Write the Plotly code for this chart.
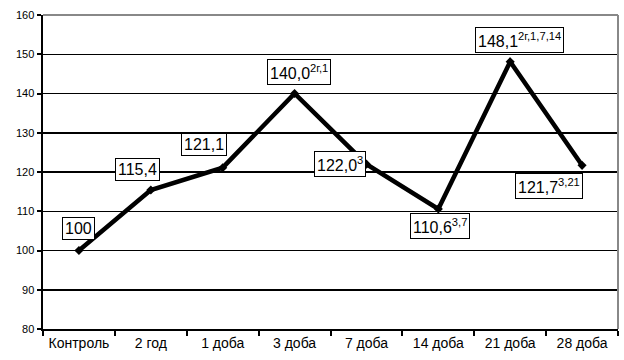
import plotly.graph_objects as go

categories = ["Контроль", "2 год", "1 доба", "3 доба", "7 доба", "14 доба", "21 доба", "28 доба"]
values = [100, 115.4, 121.1, 140.0, 122.0, 110.6, 148.1, 121.7]
labels = ["100", "115,4", "121,1", "140,0<sup>2г,1</sup>", "122,0<sup>3</sup>",
          "110,6<sup>3,7</sup>", "148,1<sup>2г,1,7,14</sup>", "121,7<sup>3,21</sup>"]
label_shift_x = [0, -13, -19, 4, -26, 2, 9, -33]
label_shift_y = [22, 21, 23, 22, 0, -17, 22, -21]

font = "Liberation Sans, Arial, sans-serif"

fig = go.Figure()
fig.add_trace(go.Scatter(
    x=categories, y=values, mode="lines+markers",
    line=dict(color="black", width=4.5),
    marker=dict(symbol="diamond", size=7, color="black"),
    showlegend=False, hoverinfo="skip",
))

for c, v, t, sx, sy in zip(categories, values, labels, label_shift_x, label_shift_y):
    fig.add_annotation(
        x=c, y=v, text=t, showarrow=False, xshift=sx, yshift=sy,
        font=dict(family=font, size=16, color="black"),
        bgcolor="white", bordercolor="black", borderwidth=1, borderpad=2,
    )

# gray top and right borders
fig.add_shape(type="line", xref="paper", yref="paper", x0=0, x1=1, y0=1, y1=1,
              line=dict(color="#888888", width=2))
fig.add_shape(type="line", xref="paper", yref="paper", x0=1, x1=1, y0=0, y1=1,
              line=dict(color="#888888", width=2))

fig.update_layout(
    width=624, height=360,
    margin=dict(l=43, r=6, t=15, b=31, autoexpand=False),
    paper_bgcolor="white", plot_bgcolor="white",
    font=dict(family=font, color="black"),
    xaxis=dict(
        type="category", tickson="boundaries", ticks="outside", ticklen=5,
        tickwidth=2, tickcolor="black", showline=True, linecolor="black", linewidth=2,
        showgrid=False, tickfont=dict(size=14, family=font, color="black"),
        range=[-0.5, 7.5], fixedrange=True, automargin=False,
    ),
    yaxis=dict(
        range=[80, 160], dtick=10, ticks="outside", ticklen=4, tickwidth=2,
        tickcolor="black", showline=True, linecolor="black", linewidth=2.5,
        showgrid=True, gridcolor="black", gridwidth=1.5, zeroline=False,
        tickfont=dict(size=11, family=font, color="black"), automargin=False,
    ),
)

fig.write_html(
    "out.html",
    config={"displayModeBar": False, "staticPlot": True},
    post_script="document.body.style.margin='0';document.body.style.overflow='hidden';",
)
